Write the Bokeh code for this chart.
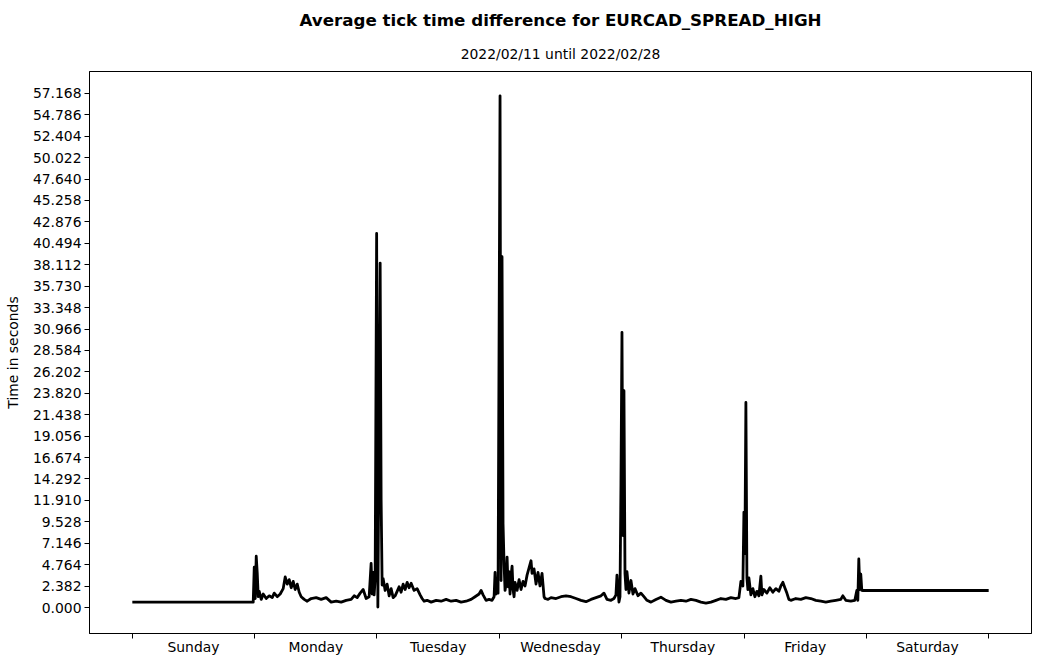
from bokeh.plotting import figure
from bokeh.models import FixedTicker, NumeralTickFormatter, Title, Range1d, ColumnDataSource
from bokeh.embed import file_html
from bokeh.resources import INLINE

# hours of the week (0 = Sunday 00:00) and average tick time difference (seconds)
hours = [
    0.0, 23.72,
    23.92, 24.11, 24.31, 24.51, 24.70, 24.90, 25.29, 25.68, 26.27, 26.86, 27.45, 27.84, 28.43, 29.01,
    29.60, 29.99, 30.39, 30.78, 31.17, 31.56, 31.95, 32.35, 32.74, 33.13, 33.72, 34.31, 35.09, 36.07,
    37.05, 38.03, 39.01, 39.99, 40.97, 41.95, 42.93, 43.52, 44.11, 44.70, 45.29, 45.87, 46.46, 46.85,
    47.05, 47.25, 47.44, 47.64, 47.93, 48.17, 48.62, 48.81, 49.01,
    49.21, 49.60, 49.99, 50.38, 50.77, 51.17, 51.56, 51.95, 52.34, 52.73, 53.13, 53.52, 53.91, 54.30,
    54.70, 55.28, 55.87, 56.46, 56.85, 57.24, 57.83, 58.62, 59.60, 60.58, 61.56, 62.54, 63.52, 64.50,
    65.48, 66.46, 67.24, 68.03, 68.42, 68.81, 69.40, 69.99, 70.57, 70.97, 71.16, 71.36, 71.56, 71.75,
    72.14, 72.34, 72.53, 72.73, 72.93, 73.12, 73.32, 73.52, 73.71, 73.91, 74.10, 74.30, 74.50, 74.69,
    74.89, 75.08, 75.48, 75.87, 76.26, 76.65, 77.04, 77.44, 77.83, 78.22, 78.42, 78.81, 79.20, 79.59,
    79.98, 80.38, 80.77, 80.96, 81.55, 82.14, 83.12, 84.10, 85.08, 86.06, 87.04, 88.02, 89.00, 89.98,
    90.96, 91.94, 92.53, 93.12, 93.90, 94.49, 94.88, 95.08, 95.28, 95.47,
    95.67, 95.86, 96.06, 96.26, 96.45, 96.65, 96.84, 97.04, 97.43, 97.82, 98.22, 98.61, 99.20, 99.78,
    100.37, 100.96, 101.74, 102.72, 103.70, 104.69, 105.67, 106.65, 107.63, 108.61, 109.59, 110.57,
    111.55, 112.53, 113.51, 114.49, 115.47, 116.45, 117.43, 118.41, 119.00, 119.39, 119.78,
    119.98, 120.17, 120.37, 120.57, 120.76, 120.96, 121.35, 121.74, 122.13, 122.53, 122.92, 123.31,
    123.51, 123.90, 124.49, 125.07, 125.66, 126.25, 126.84, 127.23, 127.62, 128.01, 128.41, 128.80,
    129.19, 130.17, 131.15, 132.13, 133.11, 134.09, 135.07, 136.05, 137.03, 138.01, 138.99, 139.38,
    139.97, 140.95, 141.74, 142.13, 142.33, 142.52, 142.72, 142.91, 143.11, 143.31,
    168.0,
]
seconds = [
    0.59, 0.59,
    4.5, 1.0, 5.7, 3.8, 1.2, 1.8, 0.9, 1.5, 1.0, 1.3, 1.1, 1.6, 1.2, 1.5,
    2.1, 3.4, 2.6, 3.1, 2.2, 2.9, 2.0, 2.6, 1.7, 1.2, 0.9, 0.7, 1.0, 1.1,
    0.9, 1.1, 0.6, 0.7, 0.6, 0.8, 0.9, 1.3, 1.1, 1.6, 2.0, 1.0, 1.2, 4.9,
    1.5, 3.9, 1.4, 3.2, 41.6, 0.05, 38.3, 12.0, 2.5,
    3.2, 1.9, 2.6, 1.3, 2.1, 1.1, 1.3, 1.8, 2.3, 1.7, 2.6, 2.0, 2.8, 2.2,
    2.7, 1.9, 2.1, 1.4, 1.0, 0.7, 0.8, 0.6, 0.8, 0.7, 0.9, 0.7, 0.8, 0.6,
    0.7, 0.9, 1.2, 1.5, 1.9, 1.4, 0.8, 0.9, 0.8, 1.2, 3.9, 1.5, 3.2, 1.6,
    56.9, 3.0, 39.0, 9.3, 4.8, 1.9, 2.6, 5.6, 2.3, 4.0, 1.5, 3.5, 4.6, 2.0,
    1.2, 2.8, 1.9, 3.1, 2.0, 2.9, 2.4, 3.6, 4.4, 5.2, 3.8, 4.3, 2.6, 3.9,
    2.4, 3.8, 1.2, 1.0, 0.9, 1.1, 1.0, 1.2, 1.3, 1.2, 1.0, 0.8, 0.65, 0.9,
    1.1, 1.3, 1.6, 0.9, 0.8, 1.0, 1.4, 3.6, 2.0, 0.6,
    1.2, 13.8, 30.6, 8.0, 24.1, 3.8, 2.0, 4.0, 1.6, 3.0, 1.5, 2.1, 1.3, 1.6,
    1.2, 0.8, 0.6, 0.9, 1.15, 0.8, 0.6, 0.7, 0.8, 0.7, 0.9, 0.8,
    0.6, 0.5, 0.6, 0.8, 1.0, 0.9, 1.1, 1.0, 1.1, 2.9, 2.4,
    10.6, 6.0, 22.8, 3.3, 2.0, 3.3, 1.4, 2.1, 1.2, 1.8, 1.3, 3.5,
    1.4, 2.0, 1.6, 2.2, 1.7, 2.1, 1.8, 2.4, 2.8, 2.2, 1.6, 0.9,
    0.8, 1.0, 0.9, 1.1, 1.0, 0.8, 0.7, 0.6, 0.7, 0.8, 0.9, 1.3,
    0.8, 0.7, 0.8, 1.9, 0.8, 5.4, 2.0, 3.7, 1.9, 1.89,
    1.89,
]

day_names = ["Sunday", "Monday", "Tuesday", "Wednesday", "Thursday", "Friday", "Saturday"]
day_centers = [12, 36, 60, 84, 108, 132, 156]
day_bounds = [0, 24, 48, 72, 96, 120, 144, 168]
y_ticks = [0.000, 2.382, 4.764, 7.146, 9.528, 11.910, 14.292, 16.674, 19.056, 21.438, 23.820,
           26.202, 28.584, 30.966, 33.348, 35.730, 38.112, 40.494, 42.876, 45.258, 47.640,
           50.022, 52.404, 54.786, 57.168]

FONT = "DejaVu Sans"

p = figure(width=1039, height=664, output_backend="svg", toolbar_location=None,
           x_range=Range1d(-8.4, 176.4), y_range=Range1d(-2.89, 59.6),
           min_border_left=89, min_border_right=8, min_border_top=71, min_border_bottom=31,
           title="Average tick time difference for EURCAD_SPREAD_HIGH")

p.title.align = "center"
p.title.text_font = FONT
p.title.text_font_size = "16.7px"
p.title.text_font_style = "bold"
p.title.text_color = "black"
p.title.standoff = 8

sub = Title(text="2022/02/11 until 2022/02/28", align="center", text_font=FONT,
            text_font_size="13.9px", text_font_style="normal", text_color="black", standoff=20)
p.add_layout(sub, "above")

src = ColumnDataSource(dict(h=hours, s=seconds))
p.line("h", "s", source=src, line_color="black", line_width=2.8, line_join="round")

p.xgrid.visible = False
p.ygrid.visible = False
p.outline_line_color = "black"
p.outline_line_width = 1
p.outline_line_alpha = 1
p.background_fill_color = "white"
p.border_fill_color = "white"

xa = p.xaxis[0]
xa.ticker = FixedTicker(ticks=day_centers, minor_ticks=day_bounds)
xa.major_label_overrides = {c: n for c, n in zip(day_centers, day_names)}
xa.major_tick_line_color = None
xa.major_tick_out = 5
xa.major_tick_in = 0
xa.minor_tick_line_color = "black"
xa.minor_tick_out = 5
xa.minor_tick_in = 0
xa.minor_tick_line_width = 1
xa.major_label_standoff = 0
xa.major_label_text_font = FONT
xa.major_label_text_font_size = "13.9px"
xa.major_label_text_color = "black"
xa.axis_line_color = "black"

ya = p.yaxis[0]
ya.ticker = FixedTicker(ticks=y_ticks, minor_ticks=[])
ya.formatter = NumeralTickFormatter(format="0.000")
ya.major_tick_out = 5
ya.major_tick_in = 0
ya.major_tick_line_color = "black"
ya.minor_tick_line_color = None
ya.major_label_standoff = 3
ya.major_label_text_font = FONT
ya.major_label_text_font_size = "13.9px"
ya.major_label_text_color = "black"
ya.axis_line_color = "black"
ya.axis_label = "Time in seconds"
ya.axis_label_text_font = FONT
ya.axis_label_text_font_size = "13.9px"
ya.axis_label_text_font_style = "normal"
ya.axis_label_text_color = "black"
ya.axis_label_standoff = 9

open("out.html", "w").write(file_html(p, INLINE))
